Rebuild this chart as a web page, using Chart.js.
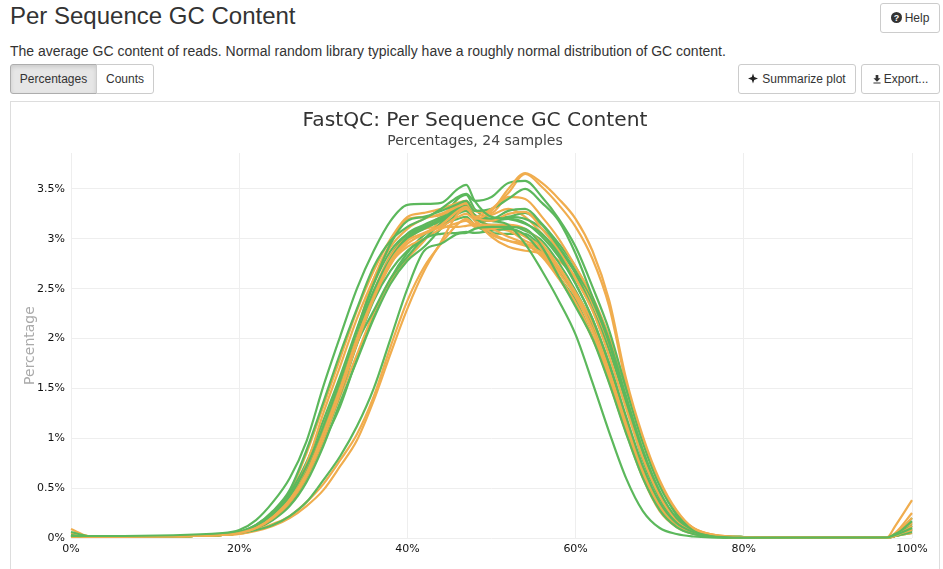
<!DOCTYPE html>
<html>
<head>
<meta charset="utf-8">
<style>
body { margin: 0; background: #fff; font-family: "Liberation Sans", Arial, sans-serif; color: #333; overflow: hidden; }
h1 { position: absolute; left: 10px; top: 2px; margin: 0; font-size: 24px; line-height: 28px; font-weight: 400; }
p { position: absolute; left: 10px; top: 42px; margin: 0; font-size: 14px; line-height: 18px; }
.btn { position: absolute; box-sizing: border-box; height: 30px; line-height: 28px; font-size: 12px; text-align: center; border: 1px solid #ccc; background: #fff; border-radius: 3px; white-space: nowrap; }
.btn svg { vertical-align: -1px; margin-right: 3px; }
#box { position: absolute; left: 10px; top: 101px; width: 930px; height: 480px; box-sizing: border-box; border: 1px solid #ddd; }
#wrap { position: absolute; left: 11px; top: 102px; width: 928px; height: 467px; }
</style>
</head>
<body>
<h1>Per Sequence GC Content</h1>
<p>The average GC content of reads. Normal random library typically have a roughly normal distribution of GC content.</p>
<div class="btn" style="left:880px;top:3px;width:60px"><svg width="11" height="11" viewBox="0 0 11 11"><circle cx="5.5" cy="5.5" r="5.5" fill="#333"/><text x="5.5" y="9" font-size="9" font-weight="700" text-anchor="middle" fill="#fff">?</text></svg>Help</div>
<div class="btn" style="left:10px;top:64px;width:87px;background:#e6e6e6;border-color:#adadad;border-radius:3px 0 0 3px;box-shadow:inset 0 2px 4px rgba(0,0,0,.12)">Percentages</div>
<div class="btn" style="left:96px;top:64px;width:58px;border-radius:0 3px 3px 0">Counts</div>
<div class="btn" style="left:738px;top:64px;width:118px"><svg width="11" height="11" viewBox="0 0 11 11"><path d="M5 0.5 L6.2 4 L10 5.5 L6.2 7 L5 10.5 L3.8 7 L0 5.5 L3.8 4 Z" fill="#222"/></svg>Summarize plot</div>
<div class="btn" style="left:861px;top:64px;width:79px"><svg width="8" height="9" viewBox="0 0 9 10"><path d="M3 0 H6 V3.5 H8.5 L4.5 7.5 L0.5 3.5 H3 Z M0.5 8.5 H8.5 V9.5 H0.5 Z" fill="#333"/></svg>Export...</div>
<div id="box"></div>
<div id="wrap"><canvas id="grafico"></canvas></div>
<script src="https://cdn.jsdelivr.net/npm/chart.js@4"></script>
<script>
// % GC de cada punto
const gcPercent = [0,2,4,18,20,22,24,26,28,30,32,34,36,38,40,42,44,46,47,48,50,52,54,56,58,60,62,64,66,68,70,72,74,76,80,97,98,100];

// muestras en verde
const g1 = [.02,.02,.02,.05,.08,.18,.36,.6,.97,1.52,2.02,2.5,2.88,3.18,3.34,3.35,3.36,3.5,3.54,3.38,3.22,3.2,3.15,3.05,2.85,2.55,2.2,1.75,1.22,.72,.36,.15,.06,.02,.005,.005,.03,.1];
const g2 = [.03,.01,.01,.04,.06,.13,.27,.48,.88,1.36,1.85,2.3,2.72,2.98,3.12,3.2,3.3,3.42,3.45,3.38,3.42,3.56,3.58,3.42,3.2,2.92,2.52,2.08,1.5,.95,.52,.24,.09,.03,.01,.005,.04,.12];
const g3 = [.01,.01,.01,.04,.06,.12,.24,.42,.72,1.12,1.58,2.08,2.55,2.95,3.18,3.22,3.28,3.35,3.38,3.28,3.3,3.4,3.5,3.36,3.18,2.85,2.42,1.98,1.42,.88,.47,.2,.08,.03,.01,.005,.03,.17];
const g4 = [.01,.01,.01,.03,.05,.08,.13,.22,.36,.58,.82,1.12,1.5,2.0,2.5,2.88,2.95,3.05,3.06,3.1,3.12,3.12,3.1,2.92,2.62,2.32,2.0,1.55,1.05,.6,.28,.11,.04,.015,.005,.005,.02,.06];
const g5 = [.06,.02,.01,.03,.06,.13,.26,.45,.76,1.18,1.62,2.1,2.55,2.88,3.05,3.12,3.2,3.3,3.32,3.22,3.18,3.14,2.95,2.68,2.38,2.04,1.56,1.06,.6,.27,.1,.04,.015,.005,.002,.005,.02,.08];
const g6 = [.02,.01,.01,.03,.05,.11,.22,.38,.66,1.05,1.5,2.0,2.42,2.78,3.0,3.1,3.18,3.28,3.3,3.2,3.18,3.2,3.16,3.02,2.82,2.55,2.2,1.74,1.2,.7,.34,.14,.05,.02,.005,.005,.03,.1];
const g7 = [.01,.01,.01,.03,.05,.1,.2,.36,.62,1.0,1.44,1.94,2.38,2.68,2.88,3.0,3.16,3.3,3.33,3.24,3.18,3.22,3.2,3.1,2.9,2.65,2.3,1.88,1.36,.85,.44,.18,.07,.025,.005,.005,.02,.14];
const g8 = [.02,.01,.01,.04,.06,.12,.24,.42,.7,1.12,1.56,2.05,2.48,2.8,3.02,3.12,3.2,3.4,3.44,3.3,3.2,3.28,3.3,3.15,2.95,2.72,2.38,1.95,1.36,.78,.4,.17,.06,.02,.005,.005,.03,.2];
const g9 = [.01,.01,.01,.03,.05,.1,.21,.37,.63,1.02,1.46,1.95,2.28,2.6,2.82,3.0,3.05,3.06,3.07,3.06,3.08,3.1,3.04,2.85,2.62,2.38,2.02,1.58,1.1,.64,.3,.12,.05,.015,.005,.005,.02,.05];
const g10 = [.03,.01,.01,.03,.05,.09,.18,.32,.56,.92,1.36,1.78,2.2,2.55,2.78,2.92,3.1,3.25,3.28,3.2,3.14,3.14,3.08,2.98,2.76,2.48,2.14,1.66,1.14,.66,.32,.13,.05,.02,.005,.005,.02,.09];
const g11 = [.01,.01,.01,.03,.05,.11,.22,.4,.68,1.08,1.52,2.02,2.46,2.82,3.05,3.14,3.22,3.33,3.34,3.22,3.2,3.22,3.26,3.14,2.92,2.68,2.36,2.0,1.5,.98,.55,.23,.08,.03,.01,.005,.03,.12];
const g12 = [.02,.01,.01,.03,.05,.1,.19,.34,.6,.96,1.32,1.8,2.24,2.6,2.86,3.04,3.14,3.2,3.22,3.14,3.06,3.05,3.05,2.9,2.7,2.42,2.1,1.62,1.12,.62,.3,.12,.05,.02,.005,.005,.02,.07];

// muestras en naranja
const o1 = [.02,.01,.01,.03,.05,.1,.2,.36,.62,1.0,1.45,1.95,2.4,2.75,2.95,3.05,3.12,3.22,3.25,3.2,3.28,3.5,3.66,3.56,3.4,3.2,2.88,2.38,1.6,1.02,.58,.28,.1,.04,.01,.005,.02,.12];
const o2 = [.01,.01,.01,.03,.05,.1,.21,.38,.65,1.05,1.5,2.0,2.42,2.78,2.98,3.06,3.14,3.28,3.32,3.22,3.3,3.46,3.65,3.52,3.34,3.12,2.8,2.32,1.55,.98,.55,.26,.1,.04,.01,.005,.03,.08];
const o3 = [.03,.01,.01,.03,.05,.11,.22,.4,.74,1.25,1.72,2.2,2.6,2.92,3.1,3.2,3.25,3.34,3.38,3.28,3.26,3.42,3.4,3.22,3.0,2.72,2.42,2.02,1.52,.98,.54,.25,.1,.035,.01,.005,.05,.25];
const o4 = [.01,.01,.01,.03,.04,.07,.12,.2,.32,.48,.72,.98,1.38,1.85,2.3,2.68,2.97,3.25,3.3,3.22,3.18,3.25,3.27,3.1,2.88,2.6,2.28,1.82,1.3,.8,.42,.18,.07,.025,.005,.005,.02,.05];
const o5 = [.01,.01,.01,.03,.04,.08,.14,.22,.36,.54,.78,1.04,1.42,1.92,2.38,2.72,2.95,3.15,3.2,3.15,3.14,3.14,3.1,2.95,2.72,2.45,2.1,1.66,1.16,.68,.33,.14,.05,.02,.005,.005,.02,.09];
const o6 = [.09,.02,.01,.03,.05,.11,.23,.4,.7,1.12,1.58,2.08,2.6,2.96,3.2,3.22,3.24,3.32,3.36,3.2,3.02,2.92,2.88,2.84,2.62,2.36,2.02,1.56,1.06,.6,.27,.11,.04,.015,.005,.005,.03,.15];
const o7 = [.05,.02,.01,.03,.05,.12,.25,.46,.85,1.32,1.8,2.28,2.68,3.0,3.22,3.26,3.3,3.36,3.38,3.2,3.06,2.98,2.93,2.86,2.66,2.42,2.08,1.62,1.12,.64,.3,.12,.05,.02,.005,.005,.04,.2];
const o8 = [.02,.01,.01,.03,.05,.1,.2,.36,.63,1.02,1.46,1.96,2.44,2.82,3.02,3.1,3.12,3.12,3.13,3.14,3.1,3.02,2.95,2.82,2.6,2.34,2.0,1.6,1.1,.62,.29,.12,.05,.02,.005,.005,.12,.38];
const o9 = [.03,.01,.01,.03,.05,.11,.22,.39,.66,1.06,1.52,2.02,2.46,2.76,2.92,3.0,3.1,3.16,3.18,3.12,3.1,3.08,2.98,2.9,2.7,2.46,2.16,1.7,1.18,.7,.34,.14,.05,.02,.005,.005,.04,.12];
const o10 = [.02,.01,.01,.03,.05,.1,.2,.35,.6,.98,1.42,1.84,2.26,2.58,2.8,2.98,3.2,3.3,3.34,3.24,3.12,3.1,3.02,2.92,2.78,2.62,2.35,1.95,1.42,.88,.4,.17,.06,.02,.005,.005,.02,.08];
const o11 = [.01,.01,.01,.03,.05,.1,.21,.37,.64,1.03,1.48,1.98,2.4,2.74,2.98,3.12,3.22,3.3,3.28,3.2,3.24,3.3,3.22,3.05,2.84,2.6,2.3,1.92,1.4,.88,.46,.2,.08,.03,.01,.005,.03,.05];
const o12 = [.02,.01,.01,.03,.05,.11,.22,.38,.67,1.08,1.54,2.04,2.48,2.84,3.04,3.12,3.18,3.26,3.3,3.18,3.04,2.98,2.95,2.88,2.68,2.44,2.12,1.68,1.16,.66,.31,.13,.05,.02,.005,.005,.03,.16];

const verdes = [g1,g2,g3,g4,g5,g6,g7,g8,g9,g10,g11,g12];
const naranjas = [o1,o2,o3,o4,o5,o6,o7,o8,o9,o10,o11,o12];

function serie(valores, color) {
    return {
        data: valores.map((v, i) => ({ x: gcPercent[i], y: v })),
        borderColor: color,
        borderWidth: 2.2,
        pointRadius: 0,
        cubicInterpolationMode: 'monotone',
        clip: false
    };
}

// Chart.js pinta primero el último dataset, se intercalan los colores
const datasets = [];
verdes.forEach((v, i) => {
    datasets.push(serie(v, '#5cb85c'));
    datasets.push(serie(naranjas[i], '#f0ad4e'));
});

const fuente = '"DejaVu Sans", Verdana, sans-serif';

const config = {
    type: 'line',
    data: { datasets: datasets },
    options: {
        responsive: true,
        maintainAspectRatio: false,
        animation: false,
        layout: { padding: { left: 11, right: 11, bottom: 0, top: 7 } },
        plugins: {
            legend: { display: false },
            tooltip: { enabled: false },
            title: {
                display: true,
                text: 'FastQC: Per Sequence GC Content',
                color: '#333',
                font: { family: fuente, size: 20.2, weight: 'normal' },
                padding: { top: 0, bottom: 0 }
            },
            subtitle: {
                display: true,
                text: 'Percentages, 24 samples',
                color: '#444',
                font: { family: fuente, size: 14, weight: 'normal' },
                padding: { top: 0, bottom: 3 }
            }
        },
        scales: {
            x: {
                type: 'linear',
                min: 0,
                max: 100,
                afterFit: (s) => { s.height = 31; },
                grid: { color: '#eeeeee', drawTicks: false },
                border: { display: false },
                ticks: {
                    stepSize: 20,
                    maxRotation: 0,
                    padding: 5,
                    color: '#111',
                    font: { family: fuente, size: 11 },
                    callback: (v) => v + '%'
                }
            },
            y: {
                min: 0,
                max: 3.86,
                afterFit: (s) => { s.width = 49; },
                afterBuildTicks: (s) => { s.ticks = s.ticks.filter((t) => t.value <= 3.5); },
                grid: { color: '#eeeeee', drawTicks: false },
                border: { display: false },
                title: {
                    display: true,
                    text: 'Percentage',
                    color: '#aaa',
                    font: { family: fuente, size: 14 },
                    padding: { top: 0, bottom: 0 }
                },
                ticks: {
                    stepSize: 0.5,
                    padding: 6,
                    color: '#111',
                    font: { family: fuente, size: 11 },
                    callback: (v) => v + '%'
                }
            },
            // eje vacío, solo para dejar el margen derecho y centrar el título
            margen: {
                position: 'right',
                afterFit: (s) => { s.width = 16; },
                grid: { display: false },
                border: { display: false },
                ticks: { display: false }
            }
        }
    }
};

new Chart(document.getElementById('grafico'), config);
</script>
</body>
</html>
